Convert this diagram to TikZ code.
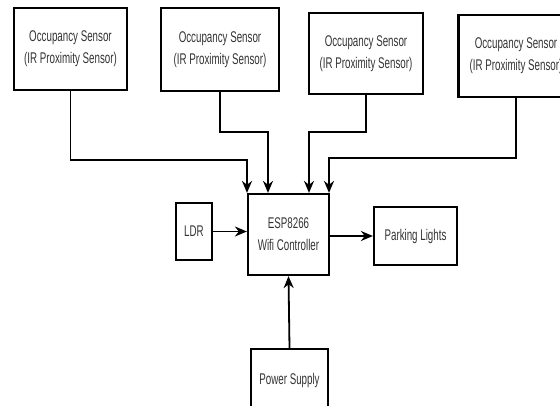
\documentclass[tikz,border=0pt]{standalone}
\usepackage{fontspec}
\setmainfont{Liberation Sans}[FakeStretch=0.63]
\usetikzlibrary{arrows.meta}

\begin{document}
\begin{tikzpicture}[x=1pt,y=-1pt,
  block/.style={draw,line width=2.2pt,align=center,inner sep=0pt,
    text=black!80,font=\fontsize{15.5pt}{22pt}\selectfont},
  link/.style={line width=1.8pt,-{Stealth[length=12pt,width=10pt]}}]
\useasboundingbox (0,0) rectangle (560,405);

\node[block,minimum width=113pt,minimum height=82pt] (S1) at (70.5,49)
{Occupancy Sensor\\(IR Proximity Sensor)};
\node[block,minimum width=118pt,minimum height=83pt] (S2) at (220,49.5)
{Occupancy Sensor\\(IR Proximity Sensor)};
\node[block,minimum width=114pt,minimum height=81pt] (S3) at (366,53.5)
{Occupancy Sensor\\(IR Proximity Sensor)};
\node[block,minimum width=115pt,minimum height=82pt] (S4) at (516,56)
{Occupancy Sensor\\(IR Proximity Sensor)};
\node[block,minimum width=81pt,minimum height=81pt] (ESP) at (288.5,234.5)
{ESP8266\\Wifi Controller};
\node[block,minimum width=36pt,minimum height=57pt] (LDR) at (194,231.5)
{LDR};
\node[block,minimum width=83pt,minimum height=58pt] (PL) at (415.5,236)
{Parking Lights};
\node[block,minimum width=77pt,minimum height=62pt] (PS) at (289.5,380)
{Power Supply};

\coordinate (J1) at (247,160);
\coordinate (J2) at (268,132);
\coordinate (J3) at (309,132);
\coordinate (J4) at (329,158);

\draw[link] (S1.south) |- (J1) -- (J1 |- ESP.north);
\draw[link] (S2.south) |- (J2) -- (J2 |- ESP.north);
\draw[link] (S3.south) |- (J3) -- (J3 |- ESP.north);
\draw[link] (S4.south) |- (J4) -- (J4 |- ESP.north);
\draw[link] (LDR.east) -- (LDR.east -| ESP.west);
\draw[link] (ESP.east |- PL.west) -- (PL.west);
\draw[link] (PS.north) -- (ESP.south);
\end{tikzpicture}
\end{document}
